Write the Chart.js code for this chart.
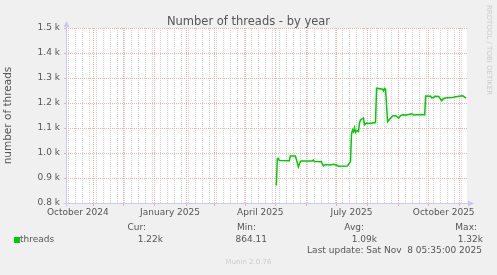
<!DOCTYPE html>
<html>
<head>
<meta charset="utf-8">
<script src="https://cdn.jsdelivr.net/npm/chart.js@4.4.1/dist/chart.umd.min.js"></script>
<style>
  html, body { margin: 0; padding: 0; background: #f0f0f0; }
  #wrap { position: relative; width: 497px; height: 275px; font-family: "DejaVu Sans", sans-serif; color: #555; }
  #wrap canvas { position: absolute; left: 0; top: 0; }
  .t { position: absolute; white-space: pre; font-size: 9px; line-height: 11px; }
  .r { text-align: right; }
</style>
</head>
<body>
<div id="wrap">
  <canvas id="threadsChart" width="497" height="275"></canvas>
  <div class="t" style="left:0;width:497px;text-align:center;top:14px;font-size:11.5px;line-height:14px;">Number of threads - by year</div>
  <div class="t" style="left:485px;top:5px;font-size:7px;line-height:8px;color:#ccc;writing-mode:vertical-rl;">RRDTOOL / TOBI OETIKER</div>

  <div style="position:absolute;left:14px;top:237px;width:6px;height:6px;background:#00cc00;"></div>
  <div class="t" style="left:20px;top:233.5px;">threads</div>

  <div class="t r" style="right:351px;top:221.5px;">Cur:</div>
  <div class="t r" style="right:334px;top:233.5px;">1.22k</div>
  <div class="t r" style="right:241px;top:221.5px;">Min:</div>
  <div class="t r" style="right:230px;top:233.5px;">864.11</div>
  <div class="t r" style="right:133px;top:221.5px;">Avg:</div>
  <div class="t r" style="right:120px;top:233.5px;">1.09k</div>
  <div class="t r" style="right:20px;top:221.5px;">Max:</div>
  <div class="t r" style="right:14px;top:233.5px;">1.32k</div>
  <div class="t r" style="right:15px;top:245px;">Last update: Sat Nov  8 05:35:00 2025</div>
  <div class="t" style="left:0;width:497px;text-align:center;top:257.5px;font-size:7px;line-height:9px;color:#ccc;">Munin 2.0.76</div>
</div>

<script>
// waarden
const dates = [
  '2025-05-02', '2025-05-03', '2025-05-04', '2025-05-05', '2025-05-15', '2025-05-16',
  '2025-05-21', '2025-05-22', '2025-05-24', '2025-05-26', '2025-05-27', '2025-06-07',
  '2025-06-08', '2025-06-09', '2025-06-16', '2025-06-18', '2025-06-20', '2025-06-25',
  '2025-06-28', '2025-07-02', '2025-07-03', '2025-07-12', '2025-07-14', '2025-07-15',
  '2025-07-16', '2025-07-17', '2025-07-18', '2025-07-19', '2025-07-20', '2025-07-21',
  '2025-07-23', '2025-07-24', '2025-07-25', '2025-07-28', '2025-07-29', '2025-07-31',
  '2025-08-02', '2025-08-09', '2025-08-10', '2025-08-16', '2025-08-17', '2025-08-18',
  '2025-08-19', '2025-08-21', '2025-08-23', '2025-08-26', '2025-08-29', '2025-09-01',
  '2025-09-03', '2025-09-05', '2025-09-09', '2025-09-14', '2025-09-16', '2025-09-23',
  '2025-09-27', '2025-09-28', '2025-10-03', '2025-10-04', '2025-10-06', '2025-10-07',
  '2025-10-11', '2025-10-14', '2025-10-16', '2025-10-20', '2025-10-25', '2025-10-28',
  '2025-11-02', '2025-11-04', '2025-11-06', '2025-11-07'
];
const threads = [
  870, 975, 978, 970, 969, 988,
  988, 975, 945, 966, 968, 968,
  972, 966, 965, 948, 954, 952,
  955, 950, 947, 948, 960, 965,
  1075, 1092, 1085, 1101, 1083, 1090,
  1086, 1120, 1132, 1140, 1112, 1120,
  1118, 1122, 1259, 1255, 1248, 1258,
  1255, 1125, 1135, 1148, 1150, 1139,
  1150, 1153, 1152, 1157, 1152, 1154,
  1152, 1228, 1227, 1221, 1221, 1227,
  1226, 1209, 1219, 1221, 1222, 1225,
  1228, 1229, 1224, 1219
];
const yTicks = [800, 900, 1000, 1100, 1200, 1300, 1400, 1500];
const quarterLabels = ['October 2024', 'January 2025', 'April 2025', 'July 2025', 'October 2025'];
const quarterLabelDates = ['2024-10-16', '2025-01-16', '2025-04-16', '2025-07-16', '2025-10-16'];
const lastUpdate = '2025-11-08T05:35:00';

const DAY = 86400000;
const ORIGIN = Date.UTC(2024, 9, 1);
function toDay(s) {
  return (Date.parse(s.length > 10 ? s + 'Z' : s + 'T00:00:00Z') - ORIGIN) / DAY;
}

const xMax = toDay(lastUpdate);
const xMin = xMax - 400;

// rasterlijnen: maand (rood), week (grijs), plus labelposities
let xTicks = [];
for (let m = 0; m < 15; m++) {
  const d = (Date.UTC(2024, 9 + m, 1) - ORIGIN) / DAY;
  if (d > xMin && d < xMax) xTicks.push({ value: d, kind: 'major', label: '' });
}
for (let d = toDay('2024-10-07'); d < xMax; d += 7) {
  if (d > xMin && !xTicks.some(t => Math.abs(t.value - d) < 0.5)) xTicks.push({ value: d, kind: 'minor', label: '' });
}
quarterLabels.forEach((l, i) => xTicks.push({ value: toDay(quarterLabelDates[i]), kind: 'label', label: l }));
xTicks.sort((a, b) => a.value - b.value);

const MAJOR = '#edb0b0';
const MINOR = '#d2d2d2';
const NONE = 'rgba(0,0,0,0)';
const AXIS = '#c8c8f0';
const FONT = 'DejaVu Sans';

function gridColor(c) {
  const t = xTicks[c.index];
  if (!t) return NONE;
  return t.kind === 'major' ? MAJOR : t.kind === 'minor' ? MINOR : NONE;
}

const canvasBg = {
  id: 'canvasBg',
  beforeDraw(chart) {
    const { ctx, chartArea: a } = chart;
    ctx.save();
    ctx.fillStyle = '#ffffff';
    ctx.fillRect(a.left, a.top, a.right - a.left, a.bottom - a.top);
    ctx.restore();
  }
};

const axisArrows = {
  id: 'axisArrows',
  afterDraw(chart) {
    const { ctx, chartArea: a } = chart;
    const l = Math.round(a.left) + 0.5, b = Math.round(a.bottom) + 0.5;
    ctx.save();
    ctx.strokeStyle = AXIS;
    ctx.fillStyle = AXIS;
    ctx.lineWidth = 1;
    ctx.beginPath();
    ctx.moveTo(l - 3, b); ctx.lineTo(a.right + 3, b);
    ctx.moveTo(l, b + 3); ctx.lineTo(l, a.top - 3);
    ctx.stroke();
    ctx.beginPath();
    ctx.moveTo(a.right + 1, b - 3); ctx.lineTo(a.right + 7, b); ctx.lineTo(a.right + 1, b + 3);
    ctx.closePath(); ctx.fill();
    ctx.beginPath();
    ctx.moveTo(l - 3, a.top - 1); ctx.lineTo(l, a.top - 7); ctx.lineTo(l + 3, a.top - 1);
    ctx.closePath(); ctx.fill();
    ctx.restore();
  }
};

new Chart(document.getElementById('threadsChart'), {
  type: 'line',
  data: {
    datasets: [{
      label: 'threads',
      data: dates.map((d, i) => ({ x: toDay(d), y: threads[i] })),
      borderColor: '#00cc00',
      borderWidth: 1.5,
      pointRadius: 0,
      tension: 0,
      fill: false
    }]
  },
  options: {
    responsive: false,
    animation: false,
    devicePixelRatio: 1,
    layout: { padding: { top: 28, right: 30, left: 0, bottom: 0 } },
    plugins: { legend: { display: false }, tooltip: { enabled: false } },
    scales: {
      x: {
        type: 'linear',
        min: xMin,
        max: xMax,
        afterBuildTicks: s => { s.ticks = xTicks.map(t => ({ value: t.value })); },
        afterFit: s => { s.height = 72; },
        ticks: {
          autoSkip: false,
          maxRotation: 0,
          padding: 1,
          color: '#555',
          font: { family: FONT, size: 9 },
          callback: (v, i) => xTicks[i] ? xTicks[i].label : ''
        },
        grid: {
          color: gridColor,
          tickColor: c => xTicks[c.index] && xTicks[c.index].kind === 'major' ? MAJOR : NONE,
          tickLength: 3
        },
        border: { display: false, dash: [1, 1] }
      },
      y: {
        min: 800,
        max: 1500,
        afterBuildTicks: s => { s.ticks = yTicks.map(v => ({ value: v })); },
        afterFit: s => { s.width = 66; },
        ticks: {
          padding: 4,
          color: '#555',
          font: { family: FONT, size: 9 },
          callback: v => (v / 1000).toFixed(1) + ' k'
        },
        grid: { color: MAJOR, tickColor: MAJOR, tickLength: 2 },
        border: { display: false, dash: [1, 1] },
        title: {
          display: true,
          text: 'number of threads',
          color: '#555',
          font: { family: FONT, size: 10.5 },
          padding: { top: 2, bottom: 0 }
        }
      }
    }
  },
  plugins: [canvasBg, axisArrows]
});
</script>
</body>
</html>
